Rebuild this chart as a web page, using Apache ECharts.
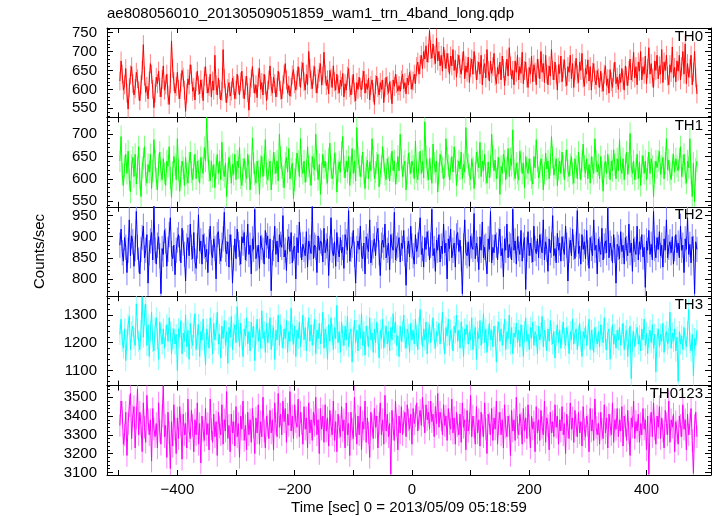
<!DOCTYPE html>
<html><head><meta charset="utf-8">
<script src="https://cdn.jsdelivr.net/npm/echarts@6/dist/echarts.min.js"></script>
<style>html,body{margin:0;padding:0;background:#fff}#c{width:717px;height:516px}</style>
</head><body><div id="c"></div>
<script>
const chartTitle = 'ae808056010_20130509051859_wam1_trn_4band_long.qdp';
const xAxisName = 'Time [sec] 0 = 2013/05/09 05:18:59';
const yAxisName = 'Counts/sec';
const bandNames = ['TH0', 'TH1', 'TH2', 'TH3', 'TH0123'];
const bandColors = ['#ff0000', '#00ff00', '#0000ff', '#00ffff', '#ff00ff'];
const tStart = -498, tStep = 2;

const th0 = [
622,675,640,598,612,655,590,548,604,638,660,615,585,602,645,628,596,
570,612,650,718,635,592,608,575,622,668,640,600,552,590,632,615,648,
605,580,626,662,598,612,640,585,560,615,728,655,620,590,608,645,600,
575,618,650,632,598,542,590,628,612,665,640,595,605,572,620,648,610,
588,625,602,570,635,660,615,590,608,640,580,622,598,690,612,585,630,
600,572,595,705,628,590,565,602,618,582,595,630,610,575,598,640,612,
585,620,648,602,575,610,635,592,545,605,628,660,615,590,612,578,632,
655,600,618,585,640,612,570,598,625,662,608,590,632,615,580,605,648,
620,598,575,612,640,668,625,590,610,582,605,638,652,615,598,625,660,
632,605,648,670,620,598,640,612,700,655,625,602,638,660,615,590,628,
645,668,612,635,698,640,610,625,588,650,630,605,662,620,598,640,612,
590,625,608,642,580,615,598,635,655,605,585,612,640,592,570,618,600,
632,605,598,625,648,590,615,600,630,572,610,625,592,560,612,635,605,
585,618,600,625,565,605,632,610,590,620,598,562,625,608,640,615,595,
610,595,625,640,602,618,588,630,612,645,625,600,622,640,615,660,672,
640,665,690,655,700,680,715,672,695,755,705,682,720,690,668,735,675,
700,662,690,648,712,680,655,695,670,640,688,662,705,650,678,632,668,
690,655,640,675,700,628,662,645,685,618,658,680,640,700,665,625,650,
672,640,690,612,655,668,630,705,650,622,675,642,660,695,635,615,658,
640,672,625,688,655,610,648,680,635,710,662,628,650,612,675,645,690,
625,660,642,698,615,650,672,630,605,658,640,688,620,665,645,612,680,
655,628,700,645,668,618,690,640,612,662,635,705,650,625,672,640,598,
665,642,688,620,655,678,632,610,660,645,690,628,668,605,650,682,640,
618,672,650,695,630,608,655,640,678,622,660,598,645,668,625,612,650,
630,605,648,618,595,640,662,610,628,590,652,620,605,645,672,615,632,
600,640,618,655,625,598,662,635,610,650,680,625,645,698,630,660,612,
672,648,700,625,660,640,688,615,655,710,640,668,630,605,675,650,690,
628,662,640,705,618,672,650,690,635,612,665,645,712,630,658,620,675,
648,690,625,660,700,640,720,615,668,632,655,690,612,645,700,630,588];

const th1 = [
640,695,610,585,628,655,612,662,598,570,630,648,605,655,588,625,672,
600,560,625,645,672,608,590,632,615,655,578,618,688,640,600,575,632,
660,618,598,645,612,585,640,628,672,602,558,615,650,632,598,690,620,
572,605,640,625,585,648,612,590,635,660,615,598,628,655,600,640,618,
590,648,625,612,670,640,738,662,618,595,640,605,632,580,625,655,612,
640,598,682,620,605,635,560,612,648,628,590,632,610,655,598,640,625,
670,602,585,622,645,615,600,655,628,575,612,692,635,610,590,640,618,
565,628,650,605,632,688,612,598,620,640,575,612,660,635,612,640,595,
700,648,625,605,580,635,648,615,668,600,622,635,555,598,622,658,640,
605,690,628,612,640,592,618,672,628,610,585,650,632,620,700,640,598,
632,565,612,655,625,640,612,590,645,680,625,600,612,658,635,570,618,
638,615,660,695,628,602,640,615,650,585,625,668,612,640,595,715,648,
630,605,628,660,612,578,625,642,600,638,618,690,648,600,615,635,655,
582,612,628,672,640,610,598,645,625,595,632,662,618,640,588,612,650,
618,700,645,605,628,640,575,612,658,635,612,640,628,600,685,615,598,
635,662,612,640,602,728,650,620,598,645,622,590,678,635,615,640,570,
612,655,638,625,600,608,690,645,630,598,622,650,615,672,640,585,618,
640,622,660,600,632,615,715,648,632,610,598,645,625,578,612,660,640,
625,682,605,640,618,655,612,590,638,602,628,700,650,618,642,600,625,
648,565,628,612,655,640,598,625,668,605,645,630,710,620,600,635,612,
598,662,640,612,635,580,650,625,612,645,620,602,588,650,625,688,640,
602,615,645,630,575,612,658,622,640,600,632,695,648,608,625,645,585,
622,640,612,660,628,598,640,665,618,605,632,650,612,590,645,628,600,
660,625,598,640,678,628,612,645,600,632,590,650,625,612,690,640,615,
632,600,650,615,572,628,640,612,655,625,598,640,618,665,632,600,645,
618,688,625,612,645,598,632,660,610,635,702,628,612,640,598,622,655,
600,638,585,628,652,612,640,598,625,660,612,645,628,560,615,640,625,
640,662,610,628,648,600,635,690,620,642,612,598,632,655,615,645,628,
618,645,672,605,628,655,612,590,640,625,690,612,560,635,548,622,640];

const th2 = [
880,918,862,842,898,875,815,868,940,855,902,888,830,872,960,875,845,
812,870,898,925,850,868,905,790,862,890,910,845,975,868,835,880,900,
855,765,872,858,915,890,830,870,905,945,860,848,880,810,868,892,905,
872,838,920,885,858,795,878,898,855,930,875,848,910,842,825,878,952,
866,890,835,905,878,852,870,815,888,925,862,850,895,872,800,905,912,
865,842,880,895,958,870,860,888,828,905,875,790,850,895,848,918,882,
862,835,900,885,910,845,872,930,858,880,812,895,870,965,848,850,880,
825,902,875,868,835,915,880,902,848,895,772,862,872,925,858,890,840,
905,882,875,950,852,868,820,888,900,865,910,838,872,878,800,898,862,
935,880,845,882,870,855,912,828,890,875,860,972,848,880,875,815,902,
868,890,885,840,920,862,878,895,808,872,945,868,855,888,830,910,870,
852,898,862,875,825,905,888,868,962,842,870,880,915,858,790,872,890,
870,925,855,848,885,812,900,878,865,940,838,862,878,895,855,905,920,
862,808,880,892,875,930,850,868,885,822,905,878,868,958,845,872,880,
898,840,885,872,915,860,785,870,890,852,925,878,855,835,905,865,880,
882,945,858,872,828,898,870,912,885,845,880,965,855,872,818,892,868,
905,840,878,860,930,862,885,800,895,872,918,850,868,885,828,902,910,
865,892,848,765,878,940,862,855,888,830,902,878,870,955,848,885,870,
822,900,868,935,850,875,878,812,895,870,960,838,875,862,905,880,845,
890,918,855,872,805,895,868,930,850,882,878,845,965,868,890,835,900,
872,858,915,842,880,898,775,870,912,855,885,868,840,925,872,860,895,
850,905,878,862,940,845,888,870,818,895,862,880,950,855,872,838,908,
868,885,842,900,872,858,925,880,795,868,892,855,918,875,848,882,962,
860,878,835,905,870,888,848,915,862,825,898,872,855,940,868,880,812,
895,870,858,920,845,878,890,862,968,850,885,872,838,905,868,790,882,
875,848,912,865,880,835,898,872,855,930,862,885,818,895,870,858,925,
845,888,870,905,852,875,780,890,868,915,858,882,845,960,872,850,898,
870,912,855,880,828,895,868,940,850,875,888,862,900,835,872,905,862,
885,850,925,868,880,815,895,870,945,858,882,838,900,872,765,888,870];

const th3 = [
1230,1285,1205,1180,1250,1135,1210,1265,1295,1175,1240,1260,1215,1190,1340,1250,1205,
1175,1245,1365,1220,1300,1340,1190,1265,1150,1240,1310,1205,1170,1255,1290,1215,1140,
1275,1230,1195,1250,1180,1225,1265,1205,1290,1240,1160,1215,1250,1195,1230,1100,1250,
1220,1280,1160,1235,1205,1300,1185,1245,1140,1270,1215,1190,1255,1305,1175,1230,1265,
1150,1240,1210,1285,1195,1120,1250,1225,1180,1290,1235,1160,1270,1210,1245,1310,1195,
1230,1145,1260,1215,1280,1190,1240,1125,1255,1220,1295,1175,1235,1265,1200,1330,1245,
1185,1270,1210,1150,1250,1225,1290,1195,1240,1170,1275,1220,1260,1135,1230,1285,1205,
1250,1180,1315,1215,1240,1165,1270,1200,1235,1290,1175,1225,1255,1140,1245,1210,1300,
1190,1265,1220,1180,1250,1215,1280,1165,1240,1205,1325,1230,1195,1260,1150,1245,1215,
1275,1185,1235,1300,1210,1255,1170,1240,1290,1205,1265,1190,1230,1285,1160,1245,1215,
1270,1195,1235,1310,1180,1250,1220,1140,1265,1205,1290,1230,1175,1255,1215,1335,1200,
1240,1165,1275,1225,1190,1260,1210,1295,1185,1235,1250,1130,1220,1280,1200,1245,1170,
1265,1215,1305,1190,1240,1155,1260,1225,1185,1290,1210,1235,1165,1250,1200,1275,1230,
1145,1245,1215,1285,1180,1225,1260,1195,1240,1170,1255,1210,1305,1235,1275,1190,1225,
1150,1260,1205,1240,1300,1215,1180,1250,1230,1165,1270,1210,1245,1195,1285,1225,1175,
1255,1320,1230,1185,1250,1210,1275,1160,1235,1265,1200,1245,1290,1215,1180,1240,1225,
1270,1195,1240,1310,1210,1160,1255,1225,1285,1190,1245,1215,1170,1260,1235,1300,1205,
1245,1180,1275,1220,1150,1250,1230,1265,1195,1240,1210,1290,1175,1225,1255,1140,1240,
1215,1280,1190,1235,1305,1200,1250,1165,1225,1270,1210,1245,1185,1260,1225,1130,1240,
1275,1205,1250,1190,1230,1285,1175,1240,1215,1300,1195,1255,1160,1235,1220,1270,1200,
1245,1185,1265,1225,1150,1240,1290,1205,1230,1175,1255,1215,1275,1190,1240,1225,1160,
1260,1210,1235,1295,1185,1245,1220,1170,1250,1205,1280,1230,1195,1240,1145,1225,1265,
1200,1245,1180,1230,1275,1215,1190,1255,1225,1160,1240,1210,1285,1195,1235,1250,1175,
1225,1270,1205,1150,1240,1215,1260,1190,1230,1285,1175,1245,1210,1165,1255,1220,1195,
1240,1185,1265,1225,1200,1290,1210,1175,1235,1250,1140,1220,1265,1195,1230,1180,1245,
1210,1255,1190,1230,1270,1175,1225,1245,1150,1215,1260,1070,1205,1240,1185,1230,1255,
1195,1225,1170,1250,1210,1285,1190,1235,1160,1220,1245,1200,1265,1180,1230,1095,1215,
1250,1185,1230,1205,1270,1165,1225,1240,1195,1215,1310,1180,1235,1205,1250,1170,1220,
1060,1240,1195,1225,1175,1255,1210,1185,1240,1320,1200,1170,1230,1080,1215,1190,1245];

const th0123 = [
3350,3480,3420,3250,3300,3420,3190,3360,3455,3520,3280,3400,3450,3230,3390,3545,3300,
3420,3350,3210,3470,3340,3260,3510,3380,3300,3380,3160,3440,3330,3290,3360,3230,3470,
3320,3250,3400,3560,3290,3350,3180,3420,3310,3120,3370,3240,3460,3330,3200,3390,3280,
3450,3350,3170,3410,3300,3360,3230,3490,3320,3280,3430,3350,3210,3380,3300,3470,3250,
3360,3150,3400,3320,3270,3440,3300,3360,3220,3490,3330,3260,3410,3290,3370,3190,3420,
3340,3300,3460,3250,3380,3320,3530,3280,3350,3210,3410,3310,3370,3240,3450,3290,3360,
3180,3400,3330,3480,3270,3350,3220,3420,3300,3380,3260,3440,3340,3200,3390,3310,3460,
3250,3370,3290,3500,3320,3230,3400,3350,3280,3430,3310,3380,3220,3470,3360,3290,3520,
3340,3410,3300,3480,3370,3440,3260,3410,3350,3530,3320,3400,3280,3460,3370,3340,3490,
3290,3420,3360,3250,3450,3330,3390,3230,3470,3310,3380,3270,3420,3350,3500,3300,3380,
3200,3440,3330,3400,3260,3460,3320,3390,3240,3430,3350,3300,3480,3270,3370,3210,3410,
3340,3290,3450,3320,3380,3230,3470,3300,3360,3190,3420,3330,3280,3500,3350,3250,3400,
3300,3450,3220,3370,3330,3480,3260,3390,3310,3180,3420,3350,3280,3440,3340,3400,3230,
3360,3470,3300,3380,3250,3510,3320,3410,3290,3360,3090,3430,3330,3270,3480,3350,3220,
3400,3310,3450,3300,3370,3420,3290,3460,3380,3330,3410,3250,3440,3360,3400,3470,3320,
3390,3430,3350,3500,3400,3310,3460,3380,3420,3330,3480,3370,3410,3290,3450,3360,3520,
3340,3420,3380,3300,3460,3350,3400,3270,3440,3360,3330,3490,3310,3390,3250,3420,3350,
3300,3410,3260,3470,3340,3380,3220,3430,3320,3360,3510,3290,3400,3340,3250,3450,3310,
3380,3240,3420,3350,3290,3470,3330,3200,3410,3360,3300,3440,3270,3390,3330,3480,3250,
3360,3420,3300,3380,3230,3460,3340,3290,3400,3350,3190,3430,3320,3380,3270,3500,3340,
3300,3410,3360,3250,3440,3320,3390,3280,3460,3350,3230,3400,3330,3370,3210,3450,3310,
3380,3270,3430,3340,3300,3480,3260,3390,3350,3220,3420,3310,3370,3290,3460,3340,3400,
3250,3380,3320,3450,3300,3360,3200,3410,3340,3280,3470,3330,3390,3260,3430,3350,3290,
3420,3310,3370,3240,3450,3330,3290,3400,3350,3210,3440,3320,3380,3270,3490,3340,3300,
3360,3250,3420,3330,3280,3460,3310,3390,3230,3410,3350,3300,3470,3260,3380,3330,3440,
3290,3380,3320,3450,3240,3400,3350,3270,3430,3310,3190,3390,3340,3480,3280,3370,3320,
3410,3260,3360,3300,3440,3330,3380,3220,3400,3090,3350,3420,3290,3470,3330,3250,3400,
3340,3450,3280,3390,3320,3230,3430,3360,3300,3480,3260,3380,3340,3410,3210,3370,3320,
3250,3400,3350,3290,3460,3330,3380,3220,3410,3300,3360,3440,3270,3095,3350,3420,3290];

const bandValues = [th0, th1, th2, th3, th0123];
const bandErrors = [25, 25, 30, 38, 60];

const yMin = [526, 537, 759, 1045, 3086];
const yMax = [762, 738, 971, 1368, 3562];
const yTickLabels = [
  [550, 600, 650, 700, 750],
  [550, 600, 650, 700],
  [800, 850, 900, 950],
  [1100, 1200, 1300],
  [3100, 3200, 3300, 3400, 3500]
];
const yMinorStep = [10, 10, 10, 20, 20];

const xMin = -520, xMax = 510;
const xTicks = [-500, -400, -300, -200, -100, 0, 100, 200, 300, 400];
const xTickLabels = [-400, -200, 0, 200, 400];

const FONT = "'Liberation Sans', Arial, Helvetica, sans-serif";
const chart = echarts.init(document.getElementById('c'), null, {renderer: 'canvas'});

const plotLeft = 107, plotRight = 711, plotTop = 28, plotBottom = 475;
const nP = bandNames.length;
const pH = (plotBottom - plotTop) / nP;

function lighten(hex) {
  const r = parseInt(hex.slice(1, 3), 16), g = parseInt(hex.slice(3, 5), 16), b = parseInt(hex.slice(5, 7), 16);
  const m = c => Math.round(c + (255 - c) * 0.5);
  return `rgb(${m(r)},${m(g)},${m(b)})`;
}
const fmtX = v => v < 0 ? '\u2212' + Math.abs(v) : String(v);
const fmtY = v => String(v);

const grids = [], xAxes = [], yAxes = [], series = [], titles = [];
titles.push({text: chartTitle, left: plotLeft, top: 6, padding: 0,
  textStyle: {fontFamily: FONT, fontSize: 15, fontWeight: 'normal', color: '#000'}});

for (let p = 0; p < nP; p++) {
  const top = plotTop + p * pH;
  grids.push({left: plotLeft, width: plotRight - plotLeft, top: top, height: pH, containLabel: false});
  const lineStyle = {color: '#000', width: 1};
  const last = p === nP - 1;
  xAxes.push({
    type: 'value', gridIndex: p, position: 'bottom', min: xMin, max: xMax,
    axisLine: {show: true, onZero: false, lineStyle},
    axisTick: {show: true, inside: true, length: 5, customValues: xTicks, lineStyle},
    axisLabel: {show: last, customValues: xTickLabels, formatter: fmtX, margin: 7,
      fontFamily: FONT, fontSize: 15, color: '#000'},
    splitLine: {show: false},
    name: last ? xAxisName : '', nameLocation: 'middle', nameGap: 25,
    nameTextStyle: {fontFamily: FONT, fontSize: 15, color: '#000'}
  });
  xAxes.push({
    type: 'value', gridIndex: p, position: 'top', min: xMin, max: xMax,
    axisLine: {show: true, onZero: false, lineStyle},
    axisTick: {show: true, inside: true, length: 5, customValues: xTicks, lineStyle},
    axisLabel: {show: false}, splitLine: {show: false}
  });
  const minorVals = [];
  const st = yMinorStep[p];
  for (let v = Math.ceil(yMin[p] / st) * st; v <= yMax[p]; v += st) {
    if (!yTickLabels[p].includes(v)) minorVals.push(v);
  }
  const baseY = {type: 'value', gridIndex: p, min: yMin[p], max: yMax[p], splitLine: {show: false}};
  yAxes.push(Object.assign({}, baseY, {
    position: 'left',
    axisLine: {show: true, onZero: false, lineStyle},
    axisTick: {show: true, inside: true, length: 6, customValues: yTickLabels[p], lineStyle},
    axisLabel: {show: true, customValues: yTickLabels[p], formatter: fmtY, margin: 10,
      fontFamily: FONT, fontSize: 15, color: '#000'},
    name: p === 2 ? yAxisName : '', nameLocation: 'middle', nameGap: 60,
    nameTextStyle: {fontFamily: FONT, fontSize: 15, color: '#000'}
  }));
  yAxes.push(Object.assign({}, baseY, {
    position: 'right',
    axisLine: {show: true, onZero: false, lineStyle},
    axisTick: {show: true, inside: true, length: 6, customValues: yTickLabels[p], lineStyle},
    axisLabel: {show: false}
  }));
  yAxes.push(Object.assign({}, baseY, {
    position: 'left',
    axisLine: {show: false, onZero: false},
    axisTick: {show: true, inside: true, length: 3, customValues: minorVals, lineStyle},
    axisLabel: {show: false}
  }));
  yAxes.push(Object.assign({}, baseY, {
    position: 'right',
    axisLine: {show: false, onZero: false},
    axisTick: {show: true, inside: true, length: 3, customValues: minorVals, lineStyle},
    axisLabel: {show: false}
  }));

  const data = bandValues[p].map((v, i) => [tStart + i * tStep, v]);
  const err = bandErrors[p];
  const light = lighten(bandColors[p]);
  series.push({
    type: 'custom', xAxisIndex: 2 * p, yAxisIndex: 4 * p, data: data, clip: true,
    renderItem: (params, api) => {
      const t = api.value(0), v = api.value(1);
      const a = api.coord([t, v - err]), b = api.coord([t, v + err]);
      return {type: 'line', shape: {x1: a[0], y1: a[1], x2: b[0], y2: b[1]},
        style: {stroke: light, lineWidth: 1}};
    },
    silent: true
  });
  series.push({
    type: 'line', xAxisIndex: 2 * p, yAxisIndex: 4 * p, data: data,
    showSymbol: false, symbol: 'none', clip: true,
    lineStyle: {color: bandColors[p], width: 1}, silent: true
  });
  titles.push({text: bandNames[p], right: 14, top: top + 1, padding: 0,
    textStyle: {fontFamily: FONT, fontSize: 15, fontWeight: 'normal', color: '#000'}});
}

chart.setOption({
  animation: false,
  backgroundColor: '#fff',
  title: titles,
  grid: grids,
  xAxis: xAxes,
  yAxis: yAxes,
  series: series
});
</script>
</body></html>
